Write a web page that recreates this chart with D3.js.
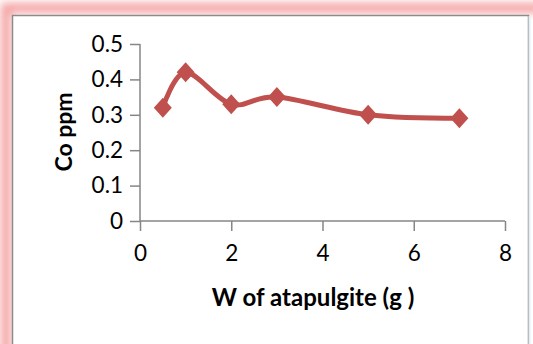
<!DOCTYPE html>
<html>
<head>
<meta charset="utf-8">
<script src="https://cdn.jsdelivr.net/npm/d3@7"></script>
<style>
  body { margin: 0; background: #fff; }
  svg text { font-family: Lato, "Open Sans", sans-serif; }
</style>
</head>
<body>
<svg id="chart" width="533" height="344"></svg>
<script>
const xValues = [0.5, 1, 2, 3, 5, 7];
const coValues = [0.32, 0.42, 0.33, 0.35, 0.30, 0.29];
const xTicks = [0, 2, 4, 6, 8];
const yTicks = [0, 0.1, 0.2, 0.3, 0.4, 0.5];

const data = xValues.map((x, i) => ({ x, y: coValues[i] }));

const width = 533;
const height = 344;
const margin = { top: 44, right: 28, bottom: 123, left: 140 };

const svg = d3.select("#chart");
const defs = svg.append("defs");

// pink glow round the chart box
const glow = defs.append("filter").attr("id", "glow")
  .attr("x", "-10%").attr("y", "-10%").attr("width", "120%").attr("height", "120%");
glow.append("feGaussianBlur").attr("in", "SourceGraphic").attr("stdDeviation", 4);

svg.append("rect")
  .attr("x", 6).attr("y", 8)
  .attr("width", 560).attr("height", 380)
  .attr("fill", "none")
  .attr("stroke", "#f28b8b")
  .attr("stroke-width", 10)
  .attr("filter", "url(#glow)")
  .attr("opacity", 0.8);

svg.append("rect")
  .attr("x", 12.5).attr("y", 15.5)
  .attr("width", 516).attr("height", 340)
  .attr("fill", "#fff")
  .attr("stroke", "#8c8c8c")
  .attr("stroke-width", 1.5);

svg.append("line")
  .attr("x1", 529.5).attr("x2", 529.5)
  .attr("y1", 16).attr("y2", 344)
  .attr("stroke", "#e6eef8").attr("stroke-width", 2);

// scales
const x = d3.scaleLinear().domain([0, 8]).range([margin.left, width - margin.right]);
const y = d3.scaleLinear().domain([0, 0.5]).range([height - margin.bottom, margin.top]);

// axes
const xAxis = svg.append("g")
  .attr("transform", `translate(0,${y(0)})`)
  .call(d3.axisBottom(x).tickValues(xTicks).tickSize(10).tickPadding(14).tickFormat(d3.format("d")));

const yAxis = svg.append("g")
  .attr("transform", `translate(${x(0)},0)`)
  .call(d3.axisLeft(y).tickValues(yTicks).tickSize(10).tickPadding(7).tickFormat((d) => (d === 0 ? "0" : d3.format(".1f")(d))));

[xAxis, yAxis].forEach((g) => {
  g.select(".domain").attr("stroke", "#868686").attr("stroke-width", 1.5);
  g.selectAll(".tick line").attr("stroke", "#868686").attr("stroke-width", 1.5);
  g.selectAll(".tick text").attr("font-size", "22.5px").attr("fill", "#000")
    .style("font-family", "Lato, 'Open Sans', sans-serif");
});
xAxis.select(".domain").attr("d", `M${x(0)},0H${x(8)}`);
yAxis.select(".domain").attr("d", `M0,${y(0.5)}V${y(0)}`);

// series line (smoothed like the spreadsheet)
const line = d3.line()
  .x((d) => x(d.x))
  .y((d) => y(d.y))
  .curve(d3.curveCardinal.tension(0));

svg.append("path")
  .datum(data)
  .attr("d", line)
  .attr("fill", "none")
  .attr("stroke", "#c0504d")
  .attr("stroke-width", 5)
  .attr("stroke-linejoin", "round");

// diamond markers
svg.selectAll(".marker")
  .data(data)
  .enter()
  .append("path")
  .attr("class", "marker")
  .attr("transform", (d) => `translate(${x(d.x)},${y(d.y)})`)
  .attr("d", "M0,-10L9,0L0,10L-9,0Z")
  .attr("fill", "#c0504d");

// axis titles
svg.append("text")
  .attr("x", 313)
  .attr("y", 306)
  .attr("text-anchor", "middle")
  .attr("font-size", "24px")
  .attr("font-weight", "bold")
  .text("W of atapulgite (g )");

svg.append("text")
  .attr("transform", "translate(72,132) rotate(-90)")
  .attr("text-anchor", "middle")
  .attr("font-size", "23px")
  .attr("font-weight", "bold")
  .text("Co ppm");
</script>
</body>
</html>
